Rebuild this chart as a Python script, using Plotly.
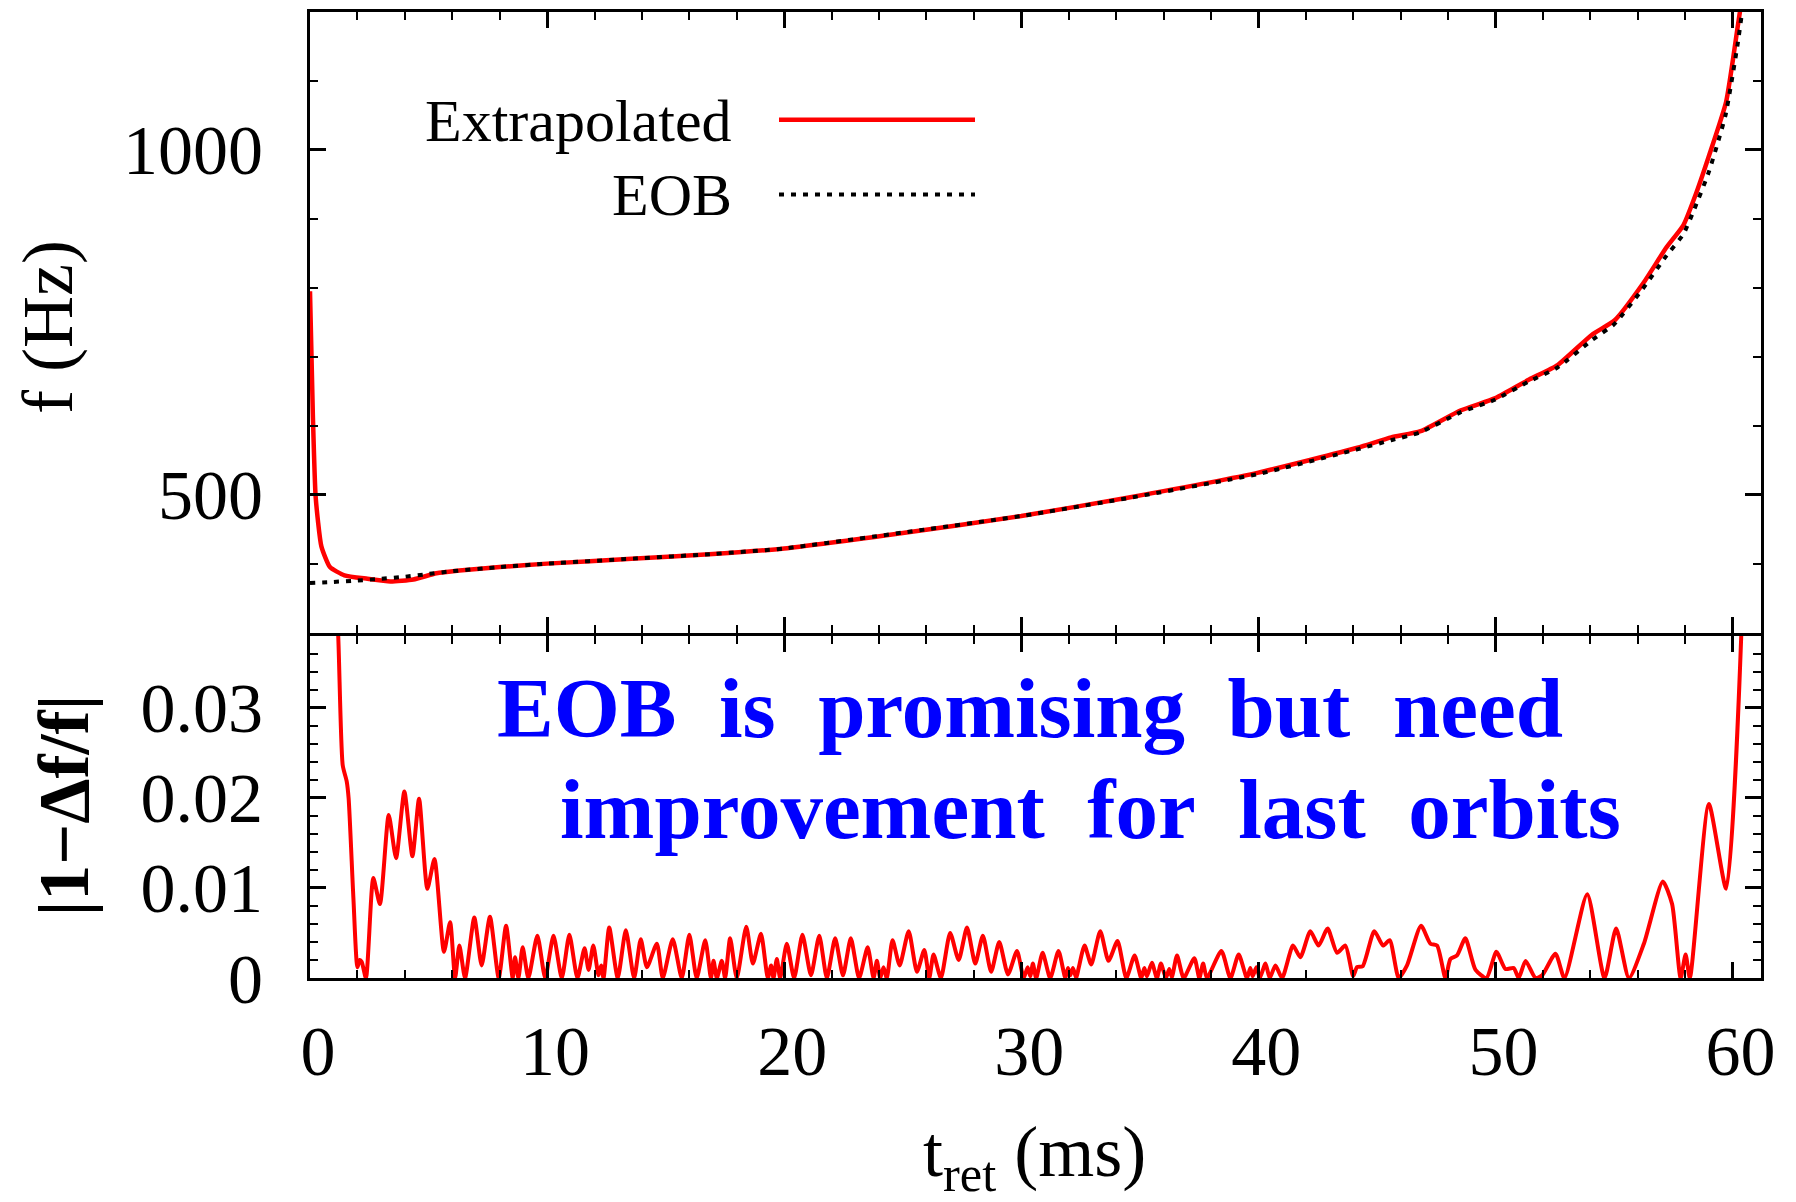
import plotly.graph_objects as go

# ---------------- data ----------------
t_ext = [0.0, 0.12, 0.24, 0.48, 0.84, 1.45, 2.42, 3.39, 4.36, 5.33, 6.30, 8.0, 10.0, 13.56,
         17.0, 20.0, 24.7, 30.0, 34.54, 40.0, 44.18, 45.6, 46.84, 48.52, 50.0, 51.42,
         52.62, 54.07, 55.03, 56.24, 57.20, 57.93, 58.41, 59.01, 59.73, 60.21, 60.34]
f_ext = [795, 616, 496, 425, 395, 383, 378, 374, 377, 386, 390, 395, 400, 407,
         414, 422, 443, 469, 496, 532, 568, 583, 592, 622, 640, 667,
         688, 732, 753, 807, 858, 891, 932, 992, 1070, 1177, 1207]

t_eob = [0.0, 1.0, 2.0, 3.0, 4.0, 5.0, 6.0, 8.0, 10.0, 13.5, 17.0, 20.0, 25.0, 30.0,
         34.5, 40.0, 44.2, 45.6, 46.8, 48.5, 50.0, 51.4, 52.6, 54.1, 55.0, 56.2,
         57.2, 57.93, 58.4, 59.0, 59.7, 60.2, 60.45]
f_eob = [372, 373.5, 375.5, 378, 381, 385, 389, 395, 400, 407, 414, 422, 445, 469,
         495, 530, 566, 579, 590, 619, 638, 664, 684, 725, 747, 798,
         846, 878, 915, 968, 1050, 1150, 1212]

t_res = [0.0, 0.24, 0.48, 0.84, 1.19, 1.38, 1.55, 1.63, 1.83, 2.0, 2.1, 2.18, 2.36, 2.67,
         2.95, 3.32, 3.63, 3.98, 4.32, 4.60, 4.95, 5.25, 5.65, 5.91, 6.12, 6.30, 6.54,
         6.93, 7.24, 7.59, 7.96, 8.27, 8.55, 8.65, 8.79, 8.97, 9.21, 9.59, 9.92, 10.27,
         10.62, 10.94, 11.28, 11.58, 11.75, 11.95, 12.17, 12.28, 12.38, 12.62, 12.98,
         13.32, 13.67, 13.95, 14.21, 14.63, 14.88, 15.30, 15.68, 16.00, 16.31, 16.67,
         16.91, 17.02, 17.16, 17.37, 17.51, 17.72, 18.00, 18.40, 18.68, 19.02, 19.31,
         19.45, 19.55, 19.69, 19.83, 20.11, 20.42, 20.77, 21.13, 21.48, 21.80, 22.15,
         22.48, 22.81, 23.16, 23.52, 23.77, 23.91, 24.05, 24.19, 24.33, 24.57, 24.87,
         25.25, 25.60, 25.91, 26.12, 26.30, 26.61, 27.00, 27.36, 27.71, 28.06, 28.38,
         28.73, 29.07, 29.44, 29.82, 30.10, 30.27, 30.38, 30.49, 30.63, 30.90, 31.22,
         31.57, 31.86, 31.97, 32.07, 32.18, 32.32, 32.42, 32.67, 32.95, 33.33, 33.68,
         34.06, 34.43, 34.78, 35.06, 35.19, 35.30, 35.51, 35.72, 35.89, 36.10, 36.24,
         36.35, 36.57, 36.85, 37.30, 37.51, 37.67, 37.83, 38.44, 38.82, 39.17, 39.52,
         39.66, 39.76, 39.92, 40.06, 40.30, 40.48, 40.72, 41.00, 41.46, 41.77, 42.19,
         42.54, 42.92, 43.32, 43.67, 44.00, 44.16, 44.40, 44.89, 45.26, 45.54, 45.92,
         46.27, 46.86, 47.26, 47.54, 47.89, 48.10, 48.38, 48.73, 49.16, 49.62, 50.04,
         50.42, 50.77, 50.98, 51.27, 51.69, 51.97, 52.53, 52.91, 53.87, 54.60, 55.09,
         55.63, 56.26, 57.06, 57.45, 57.81, 58.02, 58.20, 59.00, 59.73, 60.37, 60.8]
res = [0.9, 0.28, 0.13, 0.056, 0.038, 0.0236, 0.0218, 0.0199, 0.0089, 0.0012, 0.0020, 0.0018, 0.0, 0.0111,
       0.0082, 0.0181, 0.0133, 0.0207, 0.0135, 0.0199, 0.0099, 0.0132, 0.0029, 0.0062, 0.0, 0.0036, 0.0,
       0.0067, 0.0014, 0.0068, 0.0, 0.0058, 0.0, 0.0023, 0.0, 0.0034, 0.0, 0.0047, 0.0, 0.0047,
       0.0, 0.0048, 0.0, 0.0033, 0.0009, 0.0036, 0.0003, 0.0014, 0.0, 0.0056, 0.0,
       0.0053, 0.0, 0.0043, 0.0012, 0.0038, 0.0, 0.0043, 0.0, 0.0048, 0.0, 0.0042,
       0.0, 0.0019, 0.0, 0.0019, 0.0, 0.0044, 0.0, 0.0057, 0.0016, 0.0049, 0.0,
       0.0014, 0.0, 0.0021, 0.0, 0.0038, 0.0, 0.0048, 0.0003, 0.0047, 0.0, 0.0044,
       0.0003, 0.0044, 0.0, 0.0034, 0.0, 0.0019, 0.0, 0.0012, 0.0, 0.0042, 0.0014,
       0.0052, 0.0007, 0.0031, 0.0, 0.0026, 0.0, 0.0050, 0.0020, 0.0056, 0.0016, 0.0047,
       0.0007, 0.0040, 0.0004, 0.0030, 0.0, 0.0012, 0.0002, 0.0016, 0.0, 0.0028, 0.0,
       0.0030, 0.0, 0.0011, 0.0003, 0.0011, 0.0, 0.0011, 0.0036, 0.0015, 0.0052, 0.0019,
       0.0041, 0.0, 0.0025, 0.0, 0.0011, 0.0002, 0.0017, 0.0, 0.0016, 0.0, 0.0010,
       0.0001, 0.0025, 0.0, 0.0022, 0.0, 0.0016, 0.0, 0.0030, 0.0, 0.0026, 0.0,
       0.0011, 0.0002, 0.0012, 0.0, 0.0016, 0.0, 0.0014, 0.0, 0.0036, 0.0023, 0.0052,
       0.0036, 0.0055, 0.0028, 0.0036, 0.0002, 0.0012, 0.0013, 0.0052, 0.0036, 0.0042, 0.0,
       0.0014, 0.0058, 0.0038, 0.0036, 0.0, 0.0021, 0.0025, 0.0044, 0.0009, 0.0, 0.0029,
       0.0010, 0.0011, 0.0, 0.0019, 0.0, 0.0003, 0.0027, 0.0, 0.0093, 0.0, 0.0055,
       0.0, 0.0038, 0.0107, 0.0082, 0.0, 0.0026, 0.0, 0.0193, 0.0099, 0.0382, 0.12]

x_tickvals = [0, 10, 20, 30, 40, 50, 60]
f_tickvals = [500, 1000]
res_tickvals = [0, 0.01, 0.02, 0.03]
res_ticktext = ["0", "0.01", "0.02", "0.03"]

series_names = ["Extrapolated", "EOB"]
note_lines = ["EOB\u00a0\u00a0is\u00a0\u00a0promising\u00a0\u00a0but\u00a0\u00a0need",
              "improvement\u00a0\u00a0for\u00a0\u00a0last\u00a0\u00a0orbits"]

# ---------------- figure ----------------
FONT = "Liberation Serif"
RED = "#ff0000"
DOT = "5px,7px"

fig = go.Figure()
fig.add_trace(go.Scatter(x=t_ext, y=f_ext, xaxis="x2", yaxis="y2", mode="lines",
                         name=series_names[0], showlegend=False,
                         line=dict(color=RED, width=4.5, shape="spline", smoothing=0.5)))
fig.add_trace(go.Scatter(x=t_eob, y=f_eob, xaxis="x2", yaxis="y2", mode="lines",
                         name=series_names[1], showlegend=False,
                         line=dict(color="black", width=4, dash=DOT, shape="spline", smoothing=0.5)))
fig.add_trace(go.Scatter(x=t_res, y=res, xaxis="x", yaxis="y", mode="lines",
                         showlegend=False,
                         line=dict(color=RED, width=4, shape="spline", smoothing=0.6)))

axis_common = dict(showline=True, linecolor="black", linewidth=3, mirror="allticks",
                   ticks="inside", ticklen=16, tickwidth=2.5, tickcolor="black",
                   showgrid=False, zeroline=False,
                   tickfont=dict(family=FONT, size=70, color="black"))

# the two panels share the separator line at y = 633 px (plot area 9..978 px)
bottom_top = (978 - 634.5) / 969
top_bottom = (978 - 631.5) / 969

fig.update_layout(
    width=1796, height=1202,
    margin=dict(l=310, r=35, t=9, b=224),
    paper_bgcolor="white", plot_bgcolor="white",
    font=dict(family=FONT, color="black"),
    showlegend=False,
    xaxis=dict(axis_common, domain=[0, 1], anchor="y", range=[0, 61.2],
               tickvals=x_tickvals, ticklabelshift=8, ticklabelstandoff=10,
               minor=dict(ticks="inside", ticklen=8, tickwidth=2, tickcolor="black",
                          dtick=2, tick0=0, showgrid=False)),
    yaxis=dict(axis_common, domain=[0, bottom_top], anchor="x", range=[0, 0.038],
               tickvals=res_tickvals, ticktext=res_ticktext, ticklabelstandoff=30,
               minor=dict(ticks="inside", ticklen=8, tickwidth=2, tickcolor="black",
                          dtick=0.002, tick0=0, showgrid=False)),
    xaxis2=dict(axis_common, domain=[0, 1], anchor="y2", range=[0, 61.2], matches="x",
                tickvals=x_tickvals, showticklabels=False,
                minor=dict(ticks="inside", ticklen=8, tickwidth=2, tickcolor="black",
                           dtick=2, tick0=0, showgrid=False)),
    yaxis2=dict(axis_common, domain=[top_bottom, 1], anchor="x2", range=[300, 1200],
                tickvals=f_tickvals, ticklabelstandoff=30,
                minor=dict(ticks="inside", ticklen=8, tickwidth=2, tickcolor="black",
                           dtick=100, tick0=0, showgrid=False)),
)

def px_x(x):
    return (x - 310) / 1451

def px_y(y):
    return (978 - y) / 969

ann = []
# axis titles
ann.append(dict(text="f (Hz)", x=px_x(48), y=px_y(325), xref="paper", yref="paper",
                textangle=-90, showarrow=False, xanchor="center", yanchor="middle",
                font=dict(family=FONT, size=72, color="black")))
ann.append(dict(text="<b>|1\u2212\u0394f/f|</b>", x=px_x(64), y=px_y(805), xref="paper", yref="paper",
                textangle=-90, showarrow=False, xanchor="center", yanchor="middle",
                font=dict(family=FONT, size=72, color="black")))
ann.append(dict(text="t<sub>ret</sub> (ms)", x=px_x(1034), y=px_y(1158), xref="paper", yref="paper",
                showarrow=False, xanchor="center", yanchor="middle",
                font=dict(family=FONT, size=72, color="black")))
# legend texts
ann.append(dict(text=series_names[0], x=px_x(734), y=px_y(118), xref="paper", yref="paper",
                showarrow=False, xanchor="right", yanchor="middle",
                font=dict(family=FONT, size=60, color="black")))
ann.append(dict(text=series_names[1], x=px_x(734), y=px_y(193), xref="paper", yref="paper",
                showarrow=False, xanchor="right", yanchor="middle",
                font=dict(family=FONT, size=60, color="black")))
# blue note
ann.append(dict(text="<b>" + note_lines[0] + "</b>", x=px_x(1030), y=px_y(707), xref="paper", yref="paper",
                showarrow=False, xanchor="center", yanchor="middle",
                font=dict(family=FONT, size=85, color="#0000ff")))
ann.append(dict(text="<b>" + note_lines[1] + "</b>", x=px_x(1090), y=px_y(808), xref="paper", yref="paper",
                showarrow=False, xanchor="center", yanchor="middle",
                font=dict(family=FONT, size=85, color="#0000ff")))
fig.update_layout(annotations=ann)

# legend samples
fig.add_shape(type="line", xref="paper", yref="paper", x0=px_x(779), x1=px_x(975),
              y0=px_y(117), y1=px_y(117), line=dict(color=RED, width=4.5))
fig.add_shape(type="line", xref="paper", yref="paper", x0=px_x(779), x1=px_x(975),
              y0=px_y(192), y1=px_y(192), line=dict(color="black", width=4, dash=DOT))

fig.write_html("out.html")
